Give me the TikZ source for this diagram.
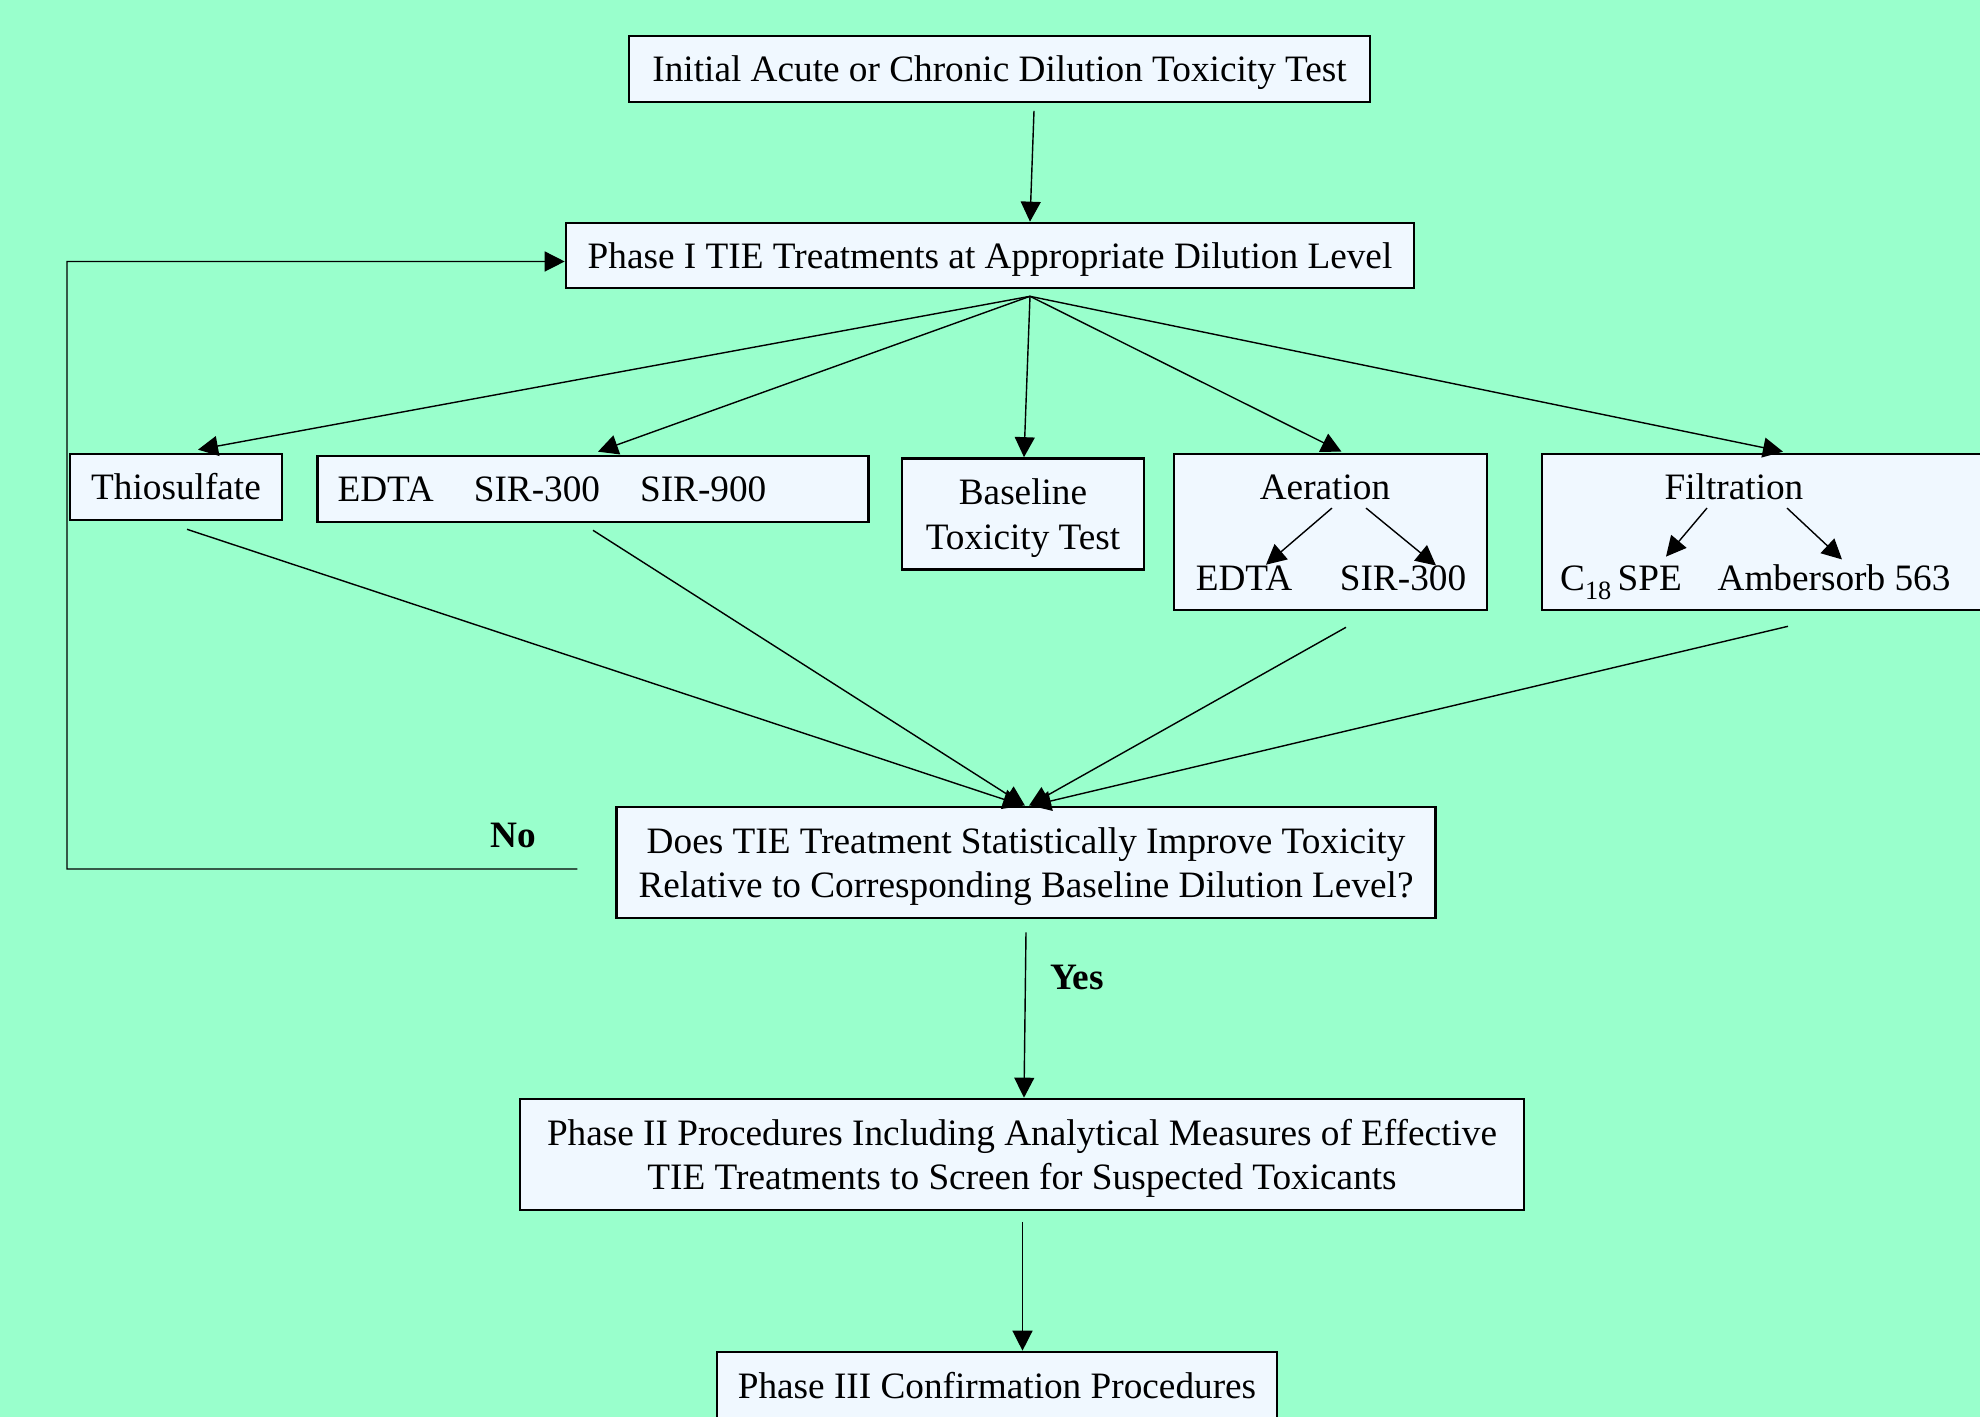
\documentclass[tikz,border=0pt]{standalone}
\usepackage{fontspec}
\setmainfont{Liberation Serif}
\usetikzlibrary{arrows.meta,calc}
\definecolor{bgc}{HTML}{99FFCC}
\definecolor{boxfill}{HTML}{F0F8FF}
\newcommand\myfs{\fontsize{10.6}{12.6}\selectfont}
\begin{document}
\begin{tikzpicture}[x=0.1mm,y=-0.1mm,
  box/.style={draw, line width=0.75pt, fill=boxfill, inner sep=0pt, align=center, font=\myfs, text height=2.6mm, text depth=0pt},
  twoline/.style={text height=7.03mm, text depth=0pt},
  lbl/.style={inner sep=0pt, font=\myfs},
  blbl/.style={inner sep=0pt, font=\myfs\bfseries},
  arr/.style={-{Triangle[length=2mm,width=2mm]}, line width=0.4pt},
  ln/.style={line width=0.4pt}]
\fill[bgc] (0,0) rectangle (1980,1417);
\useasboundingbox (0,0) rectangle (1980,1417);

% boxes
\node[box, minimum width=74.1mm, minimum height=6.6mm] (init) at (999.5,69) {Initial Acute or Chronic Dilution Toxicity Test};
\node[box, minimum width=84.8mm, minimum height=6.5mm] (p1) at (990,255.5) {Phase I TIE Treatments at Appropriate Dilution Level};
\node[box, minimum width=21.2mm, minimum height=6.6mm] (thio) at (176,487) {Thiosulfate};
\node[box, text width=51.1mm, align=left, inner xsep=2mm, minimum height=6.6mm] (edta) at (593,489) {EDTA\hspace{4mm}SIR-300\hspace{4mm}SIR-900};
\node[box, twoline, minimum width=24.2mm, minimum height=11.1mm] (base) at (1023,514) {Baseline\\Toxicity Test};
\node[box, minimum width=31.3mm, minimum height=15.6mm] (aerbox) at (1330.5,532) {};
\node[box, minimum width=48mm, minimum height=15.6mm] (filbox) at (1782,532) {};
\node[box, twoline, minimum width=81.85mm, minimum height=11.1mm] (dec) at (1026,862.5) {Does TIE Treatment Statistically Improve Toxicity\\Relative to Corresponding Baseline Dilution Level?};
\node[box, twoline, minimum width=100.4mm, minimum height=11.1mm] (p2) at (1022,1154.5) {Phase II Procedures Including Analytical Measures of Effective\\TIE Treatments to Screen for Suspected Toxicants};
\node[box, minimum width=56mm, minimum height=6.8mm] (p3) at (997,1386) {Phase III Confirmation Procedures};

% inner texts
\node[lbl, anchor=base] (aer) at (1325,500) {Aeration};
\node[lbl, anchor=base] (aedta) at (1244,591) {EDTA};
\node[lbl, anchor=base] (asir) at (1403,591) {SIR-300};
\node[lbl, anchor=base] (fil) at (1734,500) {Filtration};
\node[lbl, anchor=base] (c18) at (1621,591) {C\raisebox{-0.9mm}{\fontsize{7.5}{8}\selectfont 18}\,SPE};
\node[lbl, anchor=base] (amb) at (1834,591) {Ambersorb 563};

% labels
\node[blbl, anchor=base] (no) at (513,848) {No};
\node[blbl, anchor=base] (yes) at (1077,990) {Yes};

% main arrows
\draw[arr] ($(init.south)+(34.5,7.5)$) -- ($(p1.north)+(40,0)$);
\draw[arr] ($(p1.south)+(40,7)$) -- ($(thio.north)+(22,-3)$);
\draw[arr] ($(p1.south)+(40,7)$) -- ($(edta.north)+(5,-3)$);
\draw[arr] ($(p1.south)+(40,7)$) -- ($(base.north)+(1,0)$);
\draw[arr] ($(p1.south)+(40,7)$) -- ($(aerbox.north)+(11,-1)$);
\draw[arr] ($(p1.south)+(40,7)$) -- ($(filbox.north)+(1,-1)$);

% inner arrows
\draw[arr] ($(aer.south)+(7,7)$) -- ($(aedta.north)+(22,-1)$);
\draw[arr] ($(aer.south)+(41,7)$) -- ($(asir.north)+(33,0)$);
\draw[arr] ($(fil.south)+(-27,7)$) -- ($(c18.north)+(45,-9)$);
\draw[arr] ($(fil.south)+(53,7)$) -- ($(amb.north)+(8,-5)$);

% converging arrows
\draw[arr] ($(thio.south)+(11,8)$) -- ($(dec.north)+(-3,0)$);
\draw[arr] ($(edta.south)+(0,7)$) -- ($(dec.north)+(-1,0)$);
\draw[arr] ($(aerbox.south)+(15.5,16)$) -- ($(dec.north)+(3,0)$);
\draw[arr] ($(filbox.south)+(6,15)$) -- ($(dec.north)+(5,0)$);

% yes / next
\draw[arr] ($(dec.south)+(0,13)$) -- ($(p2.north)+(2,0)$);
\draw[arr] ($(p2.south)+(0.5,10.5)$) -- ($(p3.north)+(25.5,0)$);

% no loop
\draw[arr, line join=miter] ($(dec.west)+(-38,6.5)$) -- (67,869) -- (67,261.5) -- ($(p1.west)+(0,6)$);
\end{tikzpicture}
\end{document}
